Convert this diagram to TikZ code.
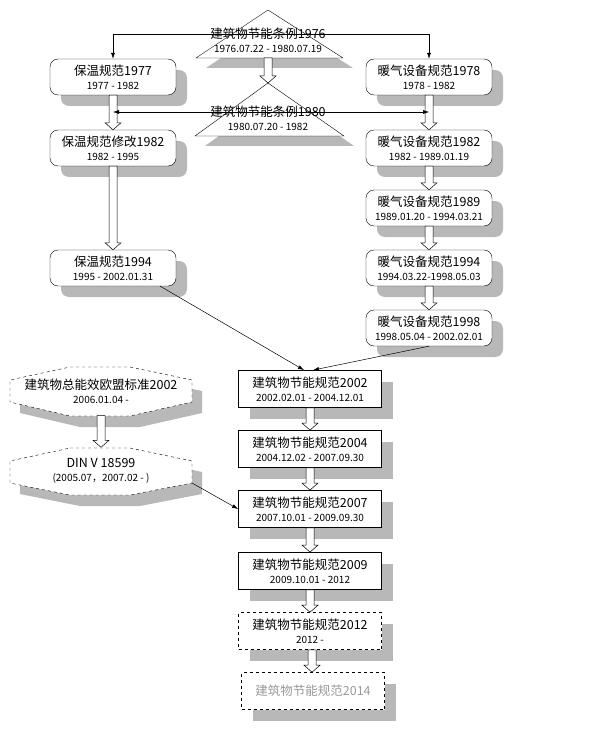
\documentclass[tikz,border=0pt]{standalone}
\usepackage{fontspec}
\setmainfont{Noto Sans CJK SC}
\usetikzlibrary{shadows,arrows.meta,calc}
\tikzset{
  shad/.style={drop shadow={shadow xshift=11pt,shadow yshift=-11pt,fill=black!28,opacity=1}},
  rbox/.style={draw,fill=white,rounded corners=8pt,minimum width=126pt,minimum height=36pt,align=center,inner sep=1pt,shad,font=\fontsize{12.5}{14}\selectfont},
  cbox/.style={draw,line width=0.8pt,fill=white,minimum width=143pt,minimum height=37pt,align=center,inner sep=1pt,shad,font=\fontsize{12.5}{14}\selectfont},
  dbox/.style={cbox,dashed,line width=0.6pt},
  txt/.style={align=center,inner sep=0pt,font=\fontsize{12.5}{14}\selectfont},
  ln/.style={-{Latex[length=6pt,width=4pt]},line width=0.5pt},
  blk/.style={draw,fill=white,line width=0.5pt},
}
\newcommand{\sm}[1]{{\fontsize{10}{12}\selectfont #1}}
\newcommand{\blockarr}[2]{\path[blk] let \p1=(#1.south), \p2=(#2.north) in
  (\x1-4pt,\y1) -- (\x1-4pt,\y2+7pt) -- (\x1-8pt,\y2+7pt) -- (\x1,\y2) -- (\x1+8pt,\y2+7pt) -- (\x1+4pt,\y2+7pt) -- (\x1+4pt,\y1) -- cycle;}
\begin{document}
\begin{tikzpicture}[x=1pt,y=-1pt]
\useasboundingbox[fill=white] (0,0) rectangle (602,730);
% triangles
\fill[black!28] (278,20) -- (206,68) -- (353,68) -- cycle;
\draw[fill=white] (268,10) -- (196,58) -- (343,58) -- cycle;
\node[txt] (t1) at (268,40) {建筑物节能条例1976\\\sm{1976.07.22 - 1980.07.19}};
\coordinate (t1top) at (268,58);
\fill[black!28] (278,93) -- (205,146) -- (354,146) -- cycle;
\draw[fill=white] (268,83) -- (195,136) -- (344,136) -- cycle;
\node[txt] (t2) at (268,118) {建筑物节能条例1980\\\sm{1980.07.20 - 1982}};
\coordinate (t2top) at (268,83);
% left
\node[rbox] (l1977) at (113,77) {保温规范1977\\\sm{1977 - 1982}};
\node[rbox] (l1982) at (113,148) {保温规范修改1982\\\sm{1982 - 1995}};
\node[rbox] (l1994) at (113,268) {保温规范1994\\\sm{1995 - 2002.01.31}};
% right
\node[rbox] (r1978) at (429,77) {暖气设备规范1978\\\sm{1978 - 1982}};
\node[rbox] (r1982) at (429,148) {暖气设备规范1982\\\sm{1982 - 1989.01.19}};
\node[rbox] (r1989) at (429,208) {暖气设备规范1989\\\sm{1989.01.20 - 1994.03.21}};
\node[rbox] (r1994) at (429,268) {暖气设备规范1994\\\sm{1994.03.22-1998.05.03}};
\node[rbox] (r1998) at (429,328) {暖气设备规范1998\\\sm{1998.05.04 - 2002.02.01}};
% centre
\node[cbox] (c2002) at (310,389) {建筑物节能规范2002\\\sm{2002.02.01 - 2004.12.01}};
\node[cbox] (c2004) at (310,449) {建筑物节能规范2004\\\sm{2004.12.02 - 2007.09.30}};
\node[cbox] (c2007) at (310,509) {建筑物节能规范2007\\\sm{2007.10.01 - 2009.09.30}};
\node[cbox] (c2009) at (310,571) {建筑物节能规范2009\\\sm{2009.10.01 - 2012}};
\node[dbox] (c2012) at (310,631) {建筑物节能规范2012\\\sm{2012 -}};
\node[dbox,text=black!40] (c2014) at (313,691) {建筑物节能规范2014};
% octagons
\fill[black!28] (80,378) -- (140,378) -- (202,391) -- (202,413) -- (140,427) -- (80,427) -- (20,413) -- (20,391) -- cycle;
\draw[dashed,fill=white] (70,367) -- (130,367) -- (192,380) -- (192,402) -- (130,416) -- (70,416) -- (10,402) -- (10,380) -- cycle;
\node[txt,minimum width=182pt,minimum height=49pt] (eu) at (101,391) {建筑物总能效欧盟标准2002\\\sm{2006.01.04 -}};
\fill[black!28] (80,459) -- (140,459) -- (202,472) -- (202,494) -- (140,506) -- (80,506) -- (20,494) -- (20,472) -- cycle;
\draw[dashed,fill=white] (70,448) -- (130,448) -- (192,461) -- (192,483) -- (130,495) -- (70,495) -- (10,483) -- (10,461) -- cycle;
\node[txt,minimum width=182pt,minimum height=47pt] (din) at (101,471) {DIN V 18599\\\sm{(2005.07，2007.02 - )}};
\coordinate (dinout) at (192,483);
% block arrows
\blockarr{t1top}{t2top}
\blockarr{l1977}{l1982}
\blockarr{l1982}{l1994}
\blockarr{r1978}{r1982}
\blockarr{r1982}{r1989}
\blockarr{r1989}{r1994}
\blockarr{r1994}{r1998}
\blockarr{c2002}{c2004}
\blockarr{c2004}{c2007}
\blockarr{c2007}{c2009}
\blockarr{c2009}{c2012}
\path[blk] let \p1=(c2012.south), \p2=(c2014.north) in
  (\x1+2pt-4pt,\y1) -- (\x1+2pt-4pt,\y2+7pt) -- (\x1+2pt-8pt,\y2+7pt) -- (\x1+2pt,\y2) -- (\x1+2pt+8pt,\y2+7pt) -- (\x1+2pt+4pt,\y2+7pt) -- (\x1+2pt+4pt,\y1) -- cycle;
\blockarr{eu}{din}
% connectors
\coordinate (h1) at (268,34);
\coordinate (h2) at (268,112);
\draw[ln] (h1) -| (l1977.north);
\draw[ln] (h1) -| (r1978.north);
\draw[ln] (h2) -- (h2 -| l1982.north);
\draw[ln] (h2) -- (h2 -| r1982.north);
\draw[ln] ([xshift=-16pt]l1994.south east) -- ([xshift=-6pt]c2002.north);
\draw[ln] (r1998.south) -- ([xshift=3pt]c2002.north);
\draw[ln] (dinout) -- (c2007.west);
\end{tikzpicture}
\end{document}
